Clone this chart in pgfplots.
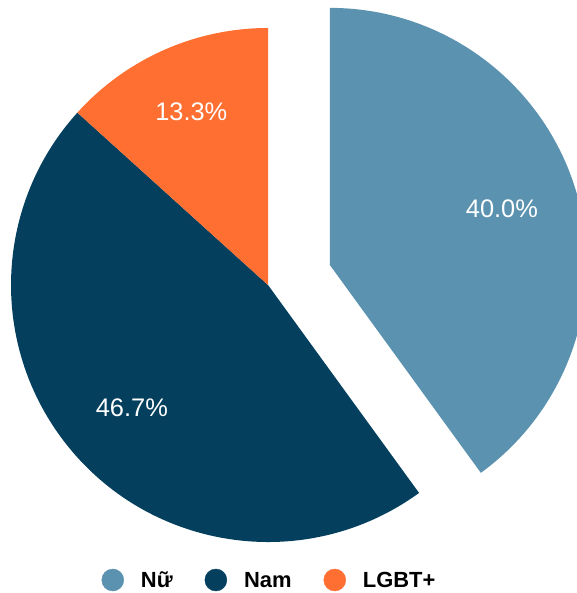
\documentclass[border=0pt]{standalone}
\usepackage{fontspec}
\setmainfont{Liberation Sans}
\usepackage{pgfplots}
\pgfplotsset{compat=1.18}
\usetikzlibrary{calc}
\definecolor{cNu}{RGB}{90,146,176}
\definecolor{cNam}{RGB}{4,64,94}
\definecolor{cLG}{RGB}{255,111,49}
\begin{document}
\begin{tikzpicture}
\useasboundingbox (0,0) rectangle (577bp,593bp);
\clip (0,0) rectangle (577bp,593bp);
% data (percent)
\pgfmathsetmacro{\vA}{40.0}% Nu
\pgfmathsetmacro{\vB}{46.7}% Nam
\pgfmathsetmacro{\vC}{13.3}% LGBT+
\pgfmathsetmacro{\aS}{90}
\pgfmathsetmacro{\aA}{\aS-3.6*\vA}
\pgfmathsetmacro{\aB}{\aA-3.6*\vB}
\pgfmathsetmacro{\aC}{\aB-3.6*\vC}
\pgfmathsetmacro{\mA}{(\aS+\aA)/2}
\pgfmathsetmacro{\mB}{(\aA+\aB)/2}
\pgfmathsetmacro{\mC}{(\aB+\aC)/2}
\pgfmathsetmacro{\exA}{329.8}
\pgfmathsetmacro{\eyA}{328.1}
\begin{axis}[hide axis, scale only axis, width=577bp, height=593bp,
  at={(0,0)}, anchor=south west,
  xmin=0, xmax=577, ymin=0, ymax=593, clip=true,
  legend columns=-1,
  legend image code/.code={\fill[#1] (11bp,0bp) circle[radius=11bp];},
  legend style={draw=none, fill=none, inner sep=0pt, outer sep=0pt,
    at={(axis cs:268.5,13)}, anchor=center,
    /tikz/every odd column/.append style={column sep=17bp},
    /tikz/every even column/.append style={column sep=32bp},
    nodes={inner sep=0pt, text height=16bp, text depth=0pt},
    font=\fontsize{22}{26}\selectfont\bfseries}]
\fill[cNu] (axis cs:\exA,\eyA) -- ++(\aS:257bp) arc[start angle=\aS, end angle=\aA, radius=257bp] -- cycle;
\fill[cNam] (axis cs:268,308) -- ++(\aA:257bp) arc[start angle=\aA, end angle=\aB, radius=257bp] -- cycle;
\fill[cLG] (axis cs:268,308) -- ++(\aB:257bp) arc[start angle=\aB, end angle=\aC, radius=257bp] -- cycle;
\node[white, font=\fontsize{25.5}{30}\selectfont] at ($(axis cs:\exA,\eyA)+(\mA:181bp)$) {40.0\%};
\node[white, font=\fontsize{25.5}{30}\selectfont] at ($(axis cs:268,308)+(\mB:183bp)$) {46.7\%};
\node[white, font=\fontsize{25.5}{30}\selectfont] at ($(axis cs:268,308)+(\mC:189bp)$) {13.3\%};
\addlegendimage{cNu}\addlegendentry{Nữ}
\addlegendimage{cNam}\addlegendentry{Nam}
\addlegendimage{cLG}\addlegendentry{LGBT+}
\end{axis}
\end{tikzpicture}
\end{document}
